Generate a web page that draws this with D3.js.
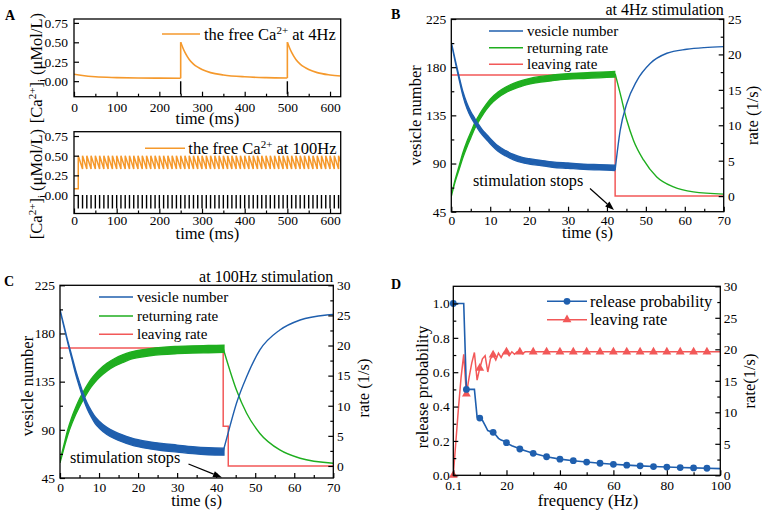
<!DOCTYPE html>
<html><head><meta charset="utf-8">
<script src="https://cdn.jsdelivr.net/npm/d3@7"></script>
<style>
body{margin:0;background:#fff}
svg{display:block}
text{font-family:"Liberation Serif","Times New Roman",serif;fill:#000}
</style>
</head><body>
<svg id="c" width="766" height="514"></svg>
<script>
// ================= DATA =================
// Panel A (top): free Ca2+ at 4 Hz, piecewise decays between stimuli (time ms, µMol/L)
const ca4Seg0 = [[0,0.09],[20,0.072],[50,0.056],[100,0.046],[150,0.041],[200,0.039],[250,0.038]];
const ca4Seg1 = [[250,0.50],[255,0.43],[260,0.37],[270,0.28],[280,0.22],[290,0.18],[300,0.15],[320,0.11],[350,0.08],[400,0.056],[450,0.045],[500,0.04]];
const ca4Seg2 = [[500,0.50],[505,0.43],[510,0.37],[520,0.28],[530,0.22],[540,0.18],[550,0.15],[570,0.11],[600,0.08],[625,0.066]];
const stim4 = [250, 500];
// Panel A (bottom): 100 Hz stimulation
const stim100 = [10,20,30,40,50,60,70,80,90,100,110,120,130,140,150,160,170,180,190,200,
  210,220,230,240,250,260,270,280,290,300,310,320,330,340,350,360,370,380,390,400,
  410,420,430,440,450,460,470,480,490,500,510,520,530,540,550,560,570,580,590,600,
  610,620,630];
const ca100Rest = 0.08, ca100Peak = 0.50, ca100Trough = 0.33;
const stimBarBottom = -0.17;

// Panel B: 4 Hz, time (s)
const bTime   = [0,1,2,3,4,5,6,7,8,9,10,12,14,16,18,20,23,26,30,34,38,42];
const bVes    = [203,186,170,155,144,136,130,124,119,115,111,104,99.5,96,93.5,92,90.5,89,88,87,86.5,86];
const bVesHW  = [0.5,1,1.5,2,2.5,2.5,2.5,2.5,2.5,2.5,2.5,2.5,2.5,2.5,2.5,2.5,2.5,2.5,2.5,2.5,2.5,2.5];
const bRet    = [0,2.2,4.0,5.8,7.3,8.6,9.9,10.9,11.8,12.6,13.3,14.3,15.0,15.5,15.9,16.2,16.5,16.7,16.9,17.0,17.1,17.2];
const bRetHW  = [0.05,0.15,0.25,0.35,0.4,0.4,0.4,0.4,0.4,0.4,0.4,0.4,0.4,0.4,0.4,0.4,0.4,0.4,0.4,0.4,0.4,0.4];
const bVesRec = [[42.1,84],[43.4,121],[45.1,146],[47.7,167.5],[51.1,183.5],[55.4,193],[60.5,196.7],[65,198.3],[70,199.2]];
const bRetDec = [[42.1,17.3],[43.4,14.5],[45.1,10.7],[46.8,7.9],[49.4,5.1],[52.8,2.7],[57.1,1.3],[62.2,0.6],[70,0.28]];
const bLeave  = [[0,17.1],[42.1,17.1],[42.1,0],[70,0]];

// Panel C: 100 Hz, time (s)
const cTime   = [0,1,2,3,4,5,6,7,8,9,10,12,14,16,18,20,23,26,30,34,38,42];
const cVes    = [202,187,172,158,144,132,121,112,105,99,95,89,85,82,79.5,77.5,75.5,74,72.5,71,70,69.6];
const cVesHW  = [0.5,0.8,1,1.5,2,2.3,2.5,2.8,3,3.2,3.3,3.3,3.3,3.3,3.3,3.3,3.3,3.3,3.3,3.3,3.3,3.3];
const cRet    = [0.7,3.2,5.6,7.5,9.1,10.5,11.7,12.8,13.8,14.6,15.3,16.4,17.2,17.8,18.3,18.6,18.9,19.1,19.25,19.35,19.4,19.45];
const cRetHW  = [0.2,0.3,0.45,0.55,0.6,0.65,0.65,0.65,0.65,0.65,0.65,0.65,0.65,0.65,0.6,0.6,0.6,0.6,0.6,0.6,0.6,0.6];
const cVesRec = [[41.8,70],[43.5,93],[45.2,114.8],[47.8,139.6],[51.2,164.6],[56.3,183.2],[61.5,192.6],[68.3,197.3],[70,197.8]];
const cRetDec = [[41.8,19.5],[43.5,15.9],[45.2,12.6],[47.8,8.75],[51.2,5.4],[56.3,2.66],[61.5,1.28],[70,0.45]];
const cLeave  = [[0,19.6],[41.8,19.6],[41.8,6.6],[43.1,6.6],[43.1,0],[70,0]];

// Panel D: frequency (Hz)
const dFreq = [0.1,1,2,3,4,5,6,7,8,9,10,11,12,13,14,15,16,17,18,19,20,21,22,23,24,25,26,27,30,35,40,45,50,55,60,65,70,75,80,85,90,95,100];
const dProb = [1,1,1,1,1,0.5,0.5,0.5,0.5,0.34,0.333,0.32,0.29,0.26,0.255,0.25,0.235,0.215,0.205,0.2,0.19,0.18,0.172,0.166,0.16,0.153,0.148,0.143,0.128,0.108,0.094,0.085,0.077,0.07,0.064,0.059,0.055,0.051,0.048,0.045,0.043,0.041,0.039];
const dRate = [0,5,10.5,15.5,19.2,12.9,15.5,17.8,19.5,15.1,17,18.5,19,16.4,18.5,19.1,18.3,19.4,18.7,19.5,19.6,19.0,19.6,19.2,19.6,19.6,19.3,19.6,19.6,19.6,19.6,19.6,19.6,19.6,19.6,19.6,19.6,19.6,19.6,19.6,19.6,19.6,19.6];
const dMarkerFreq = [0.1,5,10,15,20,25,30,35,40,45,50,55,60,65,70,75,80,85,90,95];

// ================= DRAWING =================
const svg = d3.select("#c");
const BLUE="#1f5fae", GREEN="#1fae1f", RED="#f25858", ORANGE="#f5992c";
const TFS = 13.5;
let clipN = 0;

function panel(o){
  const x = d3.scaleLinear().domain(o.xd).range([o.x0,o.x1]);
  const y = d3.scaleLinear().domain(o.yd).range([o.y1,o.y0]);
  const y2 = o.yd2 ? d3.scaleLinear().domain(o.yd2).range([o.y1,o.y0]) : null;
  const id = "clip"+(++clipN);
  svg.append("clipPath").attr("id",id).append("rect")
    .attr("x",o.x0).attr("y",o.y0).attr("width",o.x1-o.x0).attr("height",o.y1-o.y0);
  const g = svg.append("g");
  const gc = g.append("g").attr("clip-path",`url(#${id})`);
  return {x,y,y2,g,gc,o};
}
function styleAxis(sel){
  sel.select(".domain").remove();
  sel.selectAll("line").attr("stroke","#000").attr("stroke-width",1.2);
  sel.selectAll("text").attr("font-size",TFS).attr("font-family",'"Liberation Serif","Times New Roman",serif').attr("fill","#000");
}
function axes(p, a){
  const o = p.o, g = p.g;
  g.append("g").attr("transform",`translate(0,${o.y1})`)
    .call(d3.axisBottom(p.x).tickValues(a.xMaj).tickSizeInner(-5).tickSizeOuter(0).tickPadding(a.xPad).tickFormat(a.xFmt)).call(styleAxis);
  if(a.xMin) g.append("g").attr("transform",`translate(0,${o.y1})`)
    .call(d3.axisBottom(p.x).tickValues(a.xMin).tickSizeInner(-3).tickSizeOuter(0).tickFormat("")).call(styleAxis);
  g.append("g").attr("transform",`translate(${o.x0},0)`)
    .call(d3.axisLeft(p.y).tickValues(a.yMaj).tickSizeInner(-5).tickSizeOuter(0).tickPadding(a.yPad).tickFormat(a.yFmt)).call(styleAxis);
  if(a.yMin) g.append("g").attr("transform",`translate(${o.x0},0)`)
    .call(d3.axisLeft(p.y).tickValues(a.yMin).tickSizeInner(-3).tickSizeOuter(0).tickFormat("")).call(styleAxis);
  if(p.y2){
    g.append("g").attr("transform",`translate(${o.x1},0)`)
      .call(d3.axisRight(p.y2).tickValues(a.y2Maj).tickSizeInner(-5).tickSizeOuter(0).tickPadding(a.y2Pad).tickFormat(a.y2Fmt)).call(styleAxis);
    if(a.y2Min) g.append("g").attr("transform",`translate(${o.x1},0)`)
      .call(d3.axisRight(p.y2).tickValues(a.y2Min).tickSizeInner(-3).tickSizeOuter(0).tickFormat("")).call(styleAxis);
  }
  g.append("rect").attr("x",o.x0).attr("y",o.y0).attr("width",o.x1-o.x0).attr("height",o.y1-o.y0)
    .attr("fill","none").attr("stroke","#000").attr("stroke-width",1.3);
}
function txt(x,y,s,fs,anchor,rot){
  const t = svg.append("text").attr("x",x).attr("y",y).attr("font-size",fs).attr("text-anchor",anchor||"start").text(s);
  if(rot) t.attr("transform",`rotate(${rot},${x},${y})`);
  return t;
}
function letter(x,y,s){
  svg.append("text").attr("x",x).attr("y",y).attr("font-size",14).attr("font-weight","bold")
    .attr("font-family",'"Liberation Sans",Arial,sans-serif').text(s);
}
function legLine(x1,x2,y,color){
  svg.append("line").attr("x1",x1).attr("x2",x2).attr("y1",y).attr("y2",y).attr("stroke",color).attr("stroke-width",1.6);
}
function arrow(x1,y1,x2,y2){
  const ang = Math.atan2(y2-y1,x2-x1), L=9, W=3.2;
  const bx = x2 - L*Math.cos(ang), by = y2 - L*Math.sin(ang);
  svg.append("line").attr("x1",x1).attr("y1",y1).attr("x2",bx).attr("y2",by).attr("stroke","#000").attr("stroke-width",1.2);
  const px = -Math.sin(ang)*W, py = Math.cos(ang)*W;
  svg.append("path").attr("d",`M${x2},${y2}L${bx+px},${by+py}L${bx-px},${by-py}Z`).attr("fill","#000");
}
const smooth = d3.curveMonotoneX;

// ---------- Panel A top ----------
const a1 = panel({x0:74,x1:340.7,y0:19,y1:96.7,xd:[0,625],yd:[-0.2,0.8]});
{
  const {x,y,gc} = a1;
  const ln = d3.line().x(d=>x(d[0])).y(d=>y(d[1])).curve(smooth);
  const segs = [ca4Seg0,ca4Seg1,ca4Seg2];
  segs.forEach((s,i)=>{
    gc.append("path").attr("d",ln(s)).attr("fill","none").attr("stroke",ORANGE).attr("stroke-width",1.6);
    if(i>0){
      const prev = segs[i-1][segs[i-1].length-1];
      gc.append("line").attr("x1",x(prev[0])).attr("x2",x(s[0][0])).attr("y1",y(prev[1])).attr("y2",y(s[0][1]))
        .attr("stroke",ORANGE).attr("stroke-width",1.6);
    }
  });
  stim4.forEach(t=>gc.append("line").attr("x1",x(t)).attr("x2",x(t)).attr("y1",y(0)).attr("y2",y(stimBarBottom)).attr("stroke","#000").attr("stroke-width",1.4));
  axes(a1,{xMaj:d3.range(0,601,100),xMin:d3.range(50,601,100),xPad:6,xFmt:d3.format("d"),
    yMaj:[0,0.25,0.5,0.75],yPad:6,yFmt:d3.format(".2f")});
  legLine(162,200,34,ORANGE);
  const t = txt(204,39.5,"the free Ca",16.5);
  t.append("tspan").attr("dy",-6).attr("font-size",11).text("2+");
  t.append("tspan").attr("dy",6).text(" at 4Hz");
  txt(207.4,123.5,"time (ms)",16.5,"middle");
}
// ---------- Panel A bottom ----------
const a2 = panel({x0:74,x1:340.7,y0:131.7,y1:213.5,xd:[0,625],yd:[-0.235,0.805]});
{
  const {x,y,gc} = a2;
  const pts = [[0,ca100Rest],[stim100[0],ca100Rest]];
  stim100.forEach((s,i)=>{ if(i>0) pts.push([s,ca100Trough]); pts.push([s,ca100Peak]); });
  gc.append("path").attr("d",d3.line().x(d=>x(d[0])).y(d=>y(d[1]))(pts)).attr("fill","none").attr("stroke",ORANGE).attr("stroke-width",1.5);
  stim100.forEach(t=>gc.append("line").attr("x1",x(t)).attr("x2",x(t)).attr("y1",y(0)).attr("y2",y(stimBarBottom)).attr("stroke","#000").attr("stroke-width",1.4));
  axes(a2,{xMaj:d3.range(0,601,100),xMin:d3.range(50,601,100),xPad:2,xFmt:d3.format("d"),
    yMaj:[0,0.25,0.5,0.75],yPad:6,yFmt:d3.format(".2f")});
  legLine(145,185,148.3,ORANGE);
  const t = txt(188.3,153.8,"the free Ca",16.5);
  t.append("tspan").attr("dy",-6).attr("font-size",11).text("2+");
  t.append("tspan").attr("dy",6).text(" at 100Hz");
  txt(207.4,239,"time (ms)",16.5,"middle");
}
function caLabel(cx,cy){
  const t = svg.append("text").attr("x",cx).attr("y",cy).attr("font-size",16.5).attr("text-anchor","middle")
    .attr("transform",`rotate(-90,${cx},${cy})`);
  t.append("tspan").text("[Ca");
  t.append("tspan").attr("dy",-6).attr("font-size",11).text("2+");
  t.append("tspan").attr("dy",6).text("]");
  t.append("tspan").attr("dy",3).attr("font-size",11).text("i");
  t.append("tspan").attr("dy",-3).text(" (μMol/L)");
}
caLabel(42,68);
caLabel(42,184);
letter(5,20,"A");

// ---------- Panels B & C shared drawing ----------
function rateSim(p, time, ves, vesHW, ret, retHW, vesRec, retDec, leave){
  const {x,y,y2,gc} = p;
  const areaL = d3.area().x((d,i)=>x(time[i])).y0((d,i)=>y(ves[i]-vesHW[i])).y1((d,i)=>y(ves[i]+vesHW[i])).curve(smooth);
  const areaR = d3.area().x((d,i)=>x(time[i])).y0((d,i)=>y2(ret[i]-retHW[i])).y1((d,i)=>y2(ret[i]+retHW[i])).curve(smooth);
  const lnL = d3.line().x(d=>x(d[0])).y(d=>y(d[1])).curve(smooth);
  const lnR = d3.line().x(d=>x(d[0])).y(d=>y2(d[1])).curve(smooth);
  const lnStep = d3.line().x(d=>x(d[0])).y(d=>y2(d[1]));
  gc.append("path").attr("d",lnStep(leave)).attr("fill","none").attr("stroke",RED).attr("stroke-width",1.5);
  gc.append("path").attr("d",areaR(time)).attr("fill",GREEN).attr("stroke",GREEN).attr("stroke-width",1.3);
  gc.append("path").attr("d",lnR(retDec)).attr("fill","none").attr("stroke",GREEN).attr("stroke-width",1.4);
  gc.append("path").attr("d",areaL(time)).attr("fill",BLUE).attr("stroke",BLUE).attr("stroke-width",1.3);
  gc.append("path").attr("d",lnL(vesRec)).attr("fill","none").attr("stroke",BLUE).attr("stroke-width",1.4);
}
// ---------- Panel B ----------
const pb = panel({x0:451.3,x1:723.7,y0:19,y1:211.7,xd:[0,70],yd:[45,225],yd2:[-2.2,25]});
rateSim(pb,bTime,bVes,bVesHW,bRet,bRetHW,bVesRec,bRetDec,bLeave);
axes(pb,{xMaj:d3.range(0,71,10),xMin:d3.range(5,70,10),xPad:3.7,xFmt:d3.format("d"),
  yMaj:[45,90,135,180,225],yMin:[67.5,112.5,157.5,202.5],yPad:5,yFmt:d3.format("d"),
  y2Maj:d3.range(0,26,5),y2Min:d3.range(2.5,25,5),y2Pad:4.3,y2Fmt:d3.format("d")});
legLine(489,523,31,BLUE); txt(527,36,"vesicle number",15);
legLine(489,523,47.7,GREEN); txt(527,52.7,"returning rate",15);
legLine(489,523,64.3,RED); txt(527,69.3,"leaving rate",15);
txt(723.7,15,"at 4Hz stimulation",16,"end");
txt(473,186,"stimulation stops",16.2);
arrow(590,188.5,614,210);
txt(587.5,238,"time (s)",16.5,"middle");
txt(421,115.4,"vesicle number",16.5,"middle",-90);
txt(758,115.4,"rate (1/s)",16.5,"middle",-90);
letter(391,19,"B");

// ---------- Panel C ----------
const pc = panel({x0:60,x1:333.3,y0:285.3,y1:478,xd:[0,70],yd:[45,225],yd2:[-2,30]});
rateSim(pc,cTime,cVes,cVesHW,cRet,cRetHW,cVesRec,cRetDec,cLeave);
axes(pc,{xMaj:d3.range(0,71,10),xMin:d3.range(5,70,10),xPad:4.4,xFmt:d3.format("d"),
  yMaj:[45,90,135,180,225],yMin:[67.5,112.5,157.5,202.5],yPad:5,yFmt:d3.format("d"),
  y2Maj:d3.range(0,31,5),y2Min:d3.range(2.5,30,5),y2Pad:3.7,y2Fmt:d3.format("d")});
legLine(99,133,297,BLUE); txt(137,302,"vesicle number",15);
legLine(99,133,316,GREEN); txt(137,321,"returning rate",15);
legLine(99,133,334.3,RED); txt(137,339.3,"leaving rate",15);
txt(333.3,282,"at 100Hz stimulation",16,"end");
txt(70,463,"stimulation stops",16.2);
arrow(188.5,464,222,477.5);
txt(196.6,506,"time (s)",16.5,"middle");
txt(33,386,"vesicle number",16.5,"middle",-90);
txt(369,388,"rate (1/s)",16.5,"middle",-90);
letter(4,286,"C");

// ---------- Panel D ----------
const pd = panel({x0:453.3,x1:720.3,y0:286.3,y1:475.3,xd:[0.1,100],yd:[0,1.1],yd2:[0,30]});
{
  const {x,y,y2,g,gc} = pd;
  const lnP = d3.line().x((d,i)=>x(dFreq[i])).y(d=>y(d));
  const lnR = d3.line().x((d,i)=>x(dFreq[i])).y(d=>y2(d));
  gc.append("path").attr("d",lnR(dRate)).attr("fill","none").attr("stroke",RED).attr("stroke-width",1.5);
  gc.append("path").attr("d",lnP(dProb)).attr("fill","none").attr("stroke",BLUE).attr("stroke-width",1.6);
  const tri = d3.symbol().type(d3.symbolTriangle).size(34);
  const mk = dMarkerFreq.map(f=>dFreq.indexOf(f));
  g.selectAll(".tri").data(mk).join("path").attr("class","tri")
    .attr("transform",i=>`translate(${x(dFreq[i])},${y2(dRate[i])})`).attr("d",tri).attr("fill",RED);
  g.selectAll(".cir").data(mk).join("circle").attr("class","cir")
    .attr("cx",i=>x(dFreq[i])).attr("cy",i=>y(dProb[i])).attr("r",3.4).attr("fill",BLUE);
  axes(pd,{xMaj:[0.1,20,40,60,80,100],xMin:[10,30,50,70,90],xPad:5,xFmt:d=>d===0.1?"0.1":d3.format("d")(d),
    yMaj:[0,0.2,0.4,0.6,0.8,1.0],yMin:[0.1,0.3,0.5,0.7,0.9],yPad:3.6,yFmt:d3.format(".1f"),
    y2Maj:d3.range(0,31,5),y2Min:d3.range(2.5,30,5),y2Pad:3.4,y2Fmt:d3.format("d")});
  legLine(547,587,301.3,BLUE);
  svg.append("circle").attr("cx",567).attr("cy",301.3).attr("r",3.4).attr("fill",BLUE);
  txt(590,306.8,"release probability",16.5);
  legLine(547,587,319.7,RED);
  svg.append("path").attr("transform","translate(567,319.7)").attr("d",tri).attr("fill",RED);
  txt(590,325.2,"leaving rate",16.5);
  txt(588,506,"frequency (Hz)",16.5,"middle");
  txt(428,387,"release probability",16.5,"middle",-90);
  txt(755,381,"rate(1/s)",16.5,"middle",-90);
  letter(391,289,"D");
}
</script>
</body></html>
